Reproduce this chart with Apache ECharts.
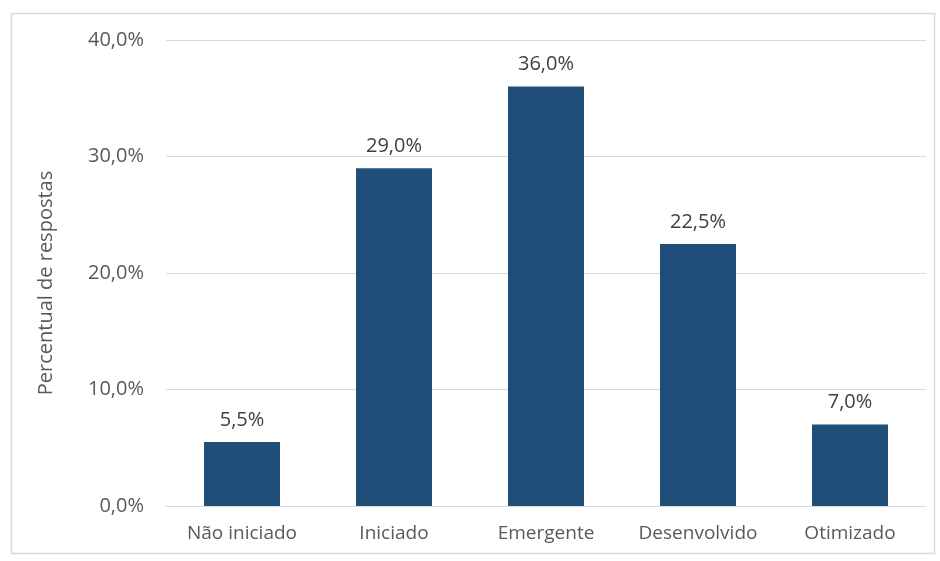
<!DOCTYPE html>
<html><head><meta charset="utf-8">
<script src="https://cdn.jsdelivr.net/npm/echarts@6/dist/echarts.min.js"></script>
<style>html,body{margin:0;padding:0;background:#fff}#c{width:940px;height:561px}</style>
</head><body><div id="c"></div>
<script>
const categories = ['Não iniciado', 'Iniciado', 'Emergente', 'Desenvolvido', 'Otimizado'];
const values = [5.5, 29.0, 36.0, 22.5, 7.0];
const yAxisName = 'Percentual de respostas';
const fmt = v => v.toFixed(1).replace('.', ',') + '%';
const chart = echarts.init(document.getElementById('c'));
chart.setOption({
  animation: false,
  backgroundColor: '#fff',
  graphic: [{type: 'rect', shape: {x: 11.5, y: 13.5, width: 923, height: 540}, style: {fill: 'none', stroke: '#d9d9d9', lineWidth: 1.5}}],
  grid: {left: 166, right: 14, top: 40, bottom: 55},
  xAxis: {
    type: 'category', data: categories,
    axisLine: {lineStyle: {color: '#d9d9d9', width: 1}},
    axisTick: {show: false},
    axisLabel: {color: '#595959', fontSize: 19, fontFamily: 'Open Sans', margin: 18, interval: 0, hideOverlap: false}
  },
  yAxis: {
    type: 'value', min: 0, max: 40, interval: 10,
    name: yAxisName, nameLocation: 'middle', nameGap: 110, nameRotate: 90,
    nameTextStyle: {color: '#595959', fontSize: 20, fontFamily: 'Open Sans', padding: [0, 0, 0, -20]},
    axisLine: {show: false}, axisTick: {show: false},
    axisLabel: {color: '#595959', fontSize: 20, fontFamily: 'Open Sans', margin: 22, formatter: fmt},
    splitLine: {lineStyle: {color: '#d9d9d9', width: 1}}
  },
  series: [{
    type: 'bar', data: values, barWidth: '50%',
    itemStyle: {color: '#1f4e79'},
    label: {show: true, position: 'top', distance: 12, color: '#404040', fontSize: 20, fontFamily: 'Open Sans', formatter: p => fmt(p.value)}
  }]
});
</script></body></html>
